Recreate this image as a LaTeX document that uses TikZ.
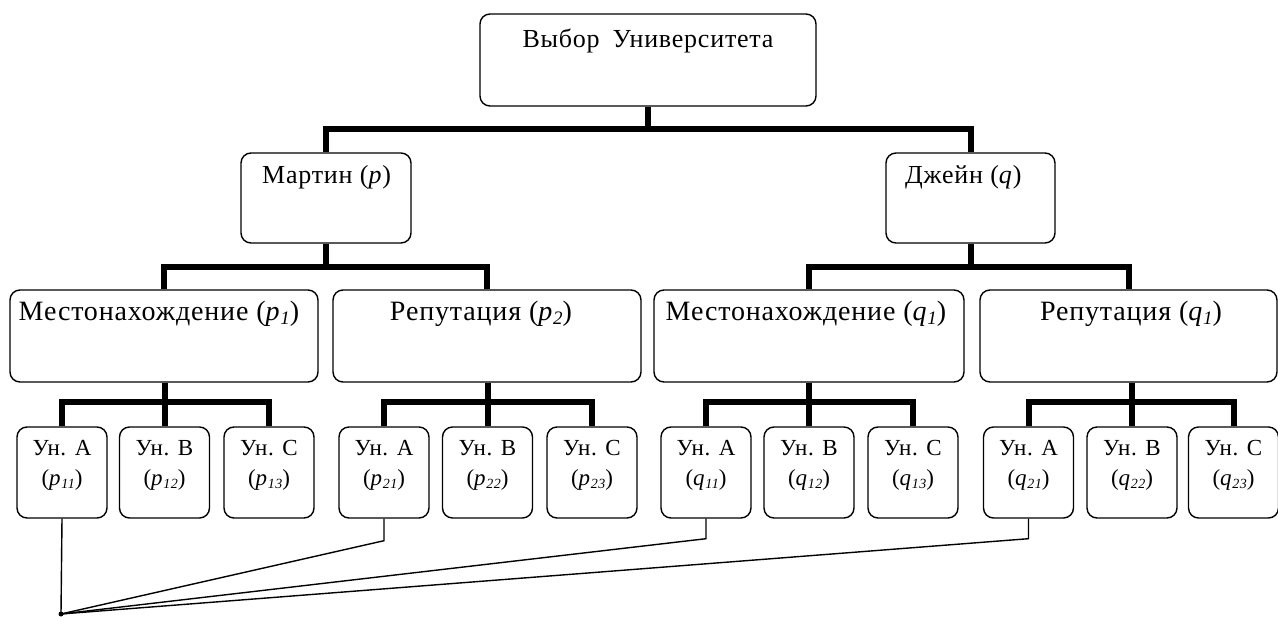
\documentclass[tikz,border=0pt]{standalone}
\usepackage{fontspec}
\setmainfont{Liberation Serif}[LetterSpace=3.0]
\newcommand\bigtxt{\fontsize{26}{30}\selectfont}
\newcommand\midtxt{\fontsize{28}{32}\selectfont}
\newcommand\smtxt{\fontsize{23}{30}\selectfont}
\newcommand\lsub[1]{\raisebox{-0.3ex}{\fontsize{19}{19}\selectfont\itshape #1}}
\newcommand\tsub[1]{\raisebox{-0.3ex}{\fontsize{14}{14}\selectfont\itshape #1}}
\begin{document}
\begin{tikzpicture}[x=1pt,y=-1pt,
  box/.style={draw, line width=1.4pt, rounded corners=10pt, inner sep=0pt},
  lbl/.style={inner sep=0pt},
  uni/.style={inner sep=0pt, align=center, font=\smtxt},
  bar/.style={line width=6pt},
  thinline/.style={line width=1.4pt}]
\useasboundingbox (0,0) rectangle (1278,617);
\fill[white] (0,0) rectangle (1278,617);

% level 1
\node[box, minimum width=336pt, minimum height=92pt] (top) at (648,60) {};
\node[lbl, font=\bigtxt] (ttop) at (648,41) {Выбор\enspace Университета};

% level 2
\node[box, minimum width=170pt, minimum height=90pt] (mar) at (326,198) {};
\node[lbl, font=\bigtxt, anchor=west] (tmar) at (262,177) {Мартин (\textit{p})};
\node[box, minimum width=169pt, minimum height=90pt] (jan) at (970.5,198) {};
\node[lbl, font=\bigtxt, anchor=west] (tjan) at (905,177) {Джейн (\textit{q})};

% level 3
\node[box, minimum width=308pt, minimum height=92pt] (L1) at (164,336) {};
\node[lbl, font=\midtxt] (tL1) at (159,314) {Местонахождение (\textit{p}\lsub{1})};
\node[box, minimum width=308pt, minimum height=92pt] (L2) at (487,336) {};
\node[lbl, font=\midtxt] (tL2) at (481,314) {Репутация (\textit{p}\lsub{2})};
\node[box, minimum width=310pt, minimum height=92pt] (L3) at (809,336) {};
\node[lbl, font=\midtxt] (tL3) at (806,314) {Местонахождение (\textit{q}\lsub{1})};
\node[box, minimum width=297pt, minimum height=92pt] (L4) at (1128.5,336) {};
\node[lbl, font=\midtxt] (tL4) at (1131,314) {Репутация (\textit{q}\lsub{1})};

% level 4
\foreach \n/\x/\t in {A1/62/{Ун. A\\(\textit{p}\tsub{11})},
                      B1/164.5/{Ун. B\\(\textit{p}\tsub{12})},
                      C1/269/{Ун. C\\(\textit{p}\tsub{13})},
                      A2/384/{Ун. A\\(\textit{p}\tsub{21})},
                      B2/487.5/{Ун. B\\(\textit{p}\tsub{22})},
                      C2/592/{Ун. C\\(\textit{p}\tsub{23})},
                      A3/706/{Ун. A\\(\textit{q}\tsub{11})},
                      B3/809/{Ун. B\\(\textit{q}\tsub{12})},
                      C3/913/{Ун. C\\(\textit{q}\tsub{13})},
                      A4/1028.5/{Ун. A\\(\textit{q}\tsub{21})},
                      B4/1132/{Ун. B\\(\textit{q}\tsub{22})},
                      C4/1233.5/{Ун. C\\(\textit{q}\tsub{23})}}{
  \node[box, minimum width=90pt, minimum height=91pt] (\n) at (\x,472.5) {};
  \node[uni] (t\n) at (\x,465) {\t};
}

% thick connectors
\draw[bar] (top.south) -- ++(0,22) coordinate (j0);
\draw[bar] (mar.north) |- (j0) -| (jan.north);
\draw[bar] (mar.south) -- ++(0,23) coordinate (j1);
\draw[bar] (L1.north) |- (j1) -| (L2.north);
\draw[bar] (jan.south) -- ++(0,23) coordinate (j2);
\draw[bar] (L3.north) |- (j2) -| (L4.north);
\foreach \i in {1,2,3,4}{
  \draw[bar] (L\i.south -| B\i.north) -- (B\i.north);
  \draw[bar] (A\i.north) -- ++(0,-24) -| (C\i.north);
}

% thin connectors
\coordinate (conv) at (61,614);
\draw[thinline] (A1.south) -- (conv);
\draw[thinline] (A2.south) -- ++(0,22) -- (conv);
\draw[thinline] (A3.south) -- ++(0,20) -- (conv);
\draw[thinline] (A4.south) -- ++(0,20) -- (conv);
\fill (conv) circle (2.5pt);
\end{tikzpicture}
\end{document}
